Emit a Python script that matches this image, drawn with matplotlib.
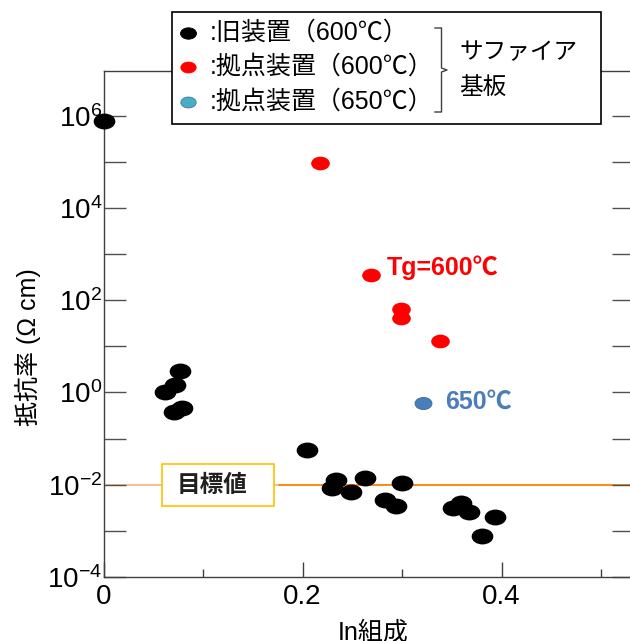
import numpy as np
import matplotlib
matplotlib.use('Agg')
import matplotlib.pyplot as plt
from matplotlib.path import Path
from matplotlib.transforms import Affine2D
from matplotlib.patches import Rectangle
from matplotlib.lines import Line2D
from matplotlib.ticker import FixedLocator, NullFormatter

plt.rcParams['font.family'] = ['Liberation Sans', 'Noto Sans CJK JP', 'DejaVu Sans']
plt.rcParams['mathtext.fontset'] = 'custom'
plt.rcParams['mathtext.rm'] = 'Liberation Sans'

# old system, 600C
old_x = [0.0, 0.0764, 0.0714, 0.062, 0.0707, 0.0787, 0.204, 0.234, 0.230, 0.249,
         0.263, 0.300, 0.283, 0.294, 0.351, 0.3595, 0.367, 0.393, 0.3806]
old_y = [7.67e5, 2.97, 1.45, 1.04, 0.383, 0.454, 0.0566, 0.0127, 0.00838, 0.00706,
         0.0142, 0.0107, 0.00467, 0.00346, 0.00308, 0.00396, 0.00261, 0.00197, 0.000774]
# base system, 600C
new600_x = [0.2178, 0.2688, 0.2985, 0.2985, 0.3384]
new600_y = [9.3e4, 352, 63.5, 40.6, 13.1]
# base system, 650C
new650_x = [0.3209]
new650_y = [0.582]

target = 1e-2
legend_labels = [':旧装置（600℃）', ':拠点装置（600℃）', ':拠点装置（650℃）']
xticks_major = [0, 0.2, 0.4]
xticks_minor = [0.1, 0.3, 0.5]
ydecades = list(range(-4, 7))

# wide ellipse marker
ell = Path.unit_circle().transformed(Affine2D().scale(1.4, 1.0))

W, H = 630, 641
fig = plt.figure(figsize=(W / 100, H / 100), dpi=100)
ax = fig.add_axes([103.5 / W, 1 - 577 / H, (634 - 103.5) / W, (577 - 70.7) / H])
ax.set_yscale('log')
ax.set_xlim(0, 0.533)
ax.set_ylim(1e-4, 10 ** 6.975)

for s in ax.spines.values():
    s.set_color('#404040')
    s.set_linewidth(1.0)

# target line
ax.axhline(target, color='#F8B088', lw=1.2, zorder=1)
ax.axhline(target, xmin=0.33, color='#FF8000', lw=1.2, zorder=1)

ax.plot(old_x, old_y, ls='none', marker=ell, ms=14.6, color='black', zorder=3, clip_on=False)
ax.plot(new600_x, new600_y, ls='none', marker=ell, ms=12.4, color='#FF0000', zorder=3)
ax.plot(new650_x, new650_y, ls='none', marker=ell, ms=12.2, mfc='#4A7EBB', mec='#3A6496',
        mew=0.6, zorder=3)

ax.text(0.285, 10 ** 2.70, 'Tg=600℃', color='#FF0000', fontsize=18, fontweight='bold',
        ha='left', va='center')
ax.text(0.343, 10 ** -0.21, '650℃', color='#4A7EBB', fontsize=18, fontweight='bold',
        ha='left', va='center')

# ticks
ax.yaxis.set_major_locator(FixedLocator([10.0 ** d for d in ydecades]))
ax.yaxis.set_minor_locator(FixedLocator([]))
ax.set_yticklabels(['$\\mathregular{10^{%d}}$' % d if d % 2 == 0 else '' for d in ydecades])
ax.tick_params(axis='y', which='major', direction='in', length=16, width=1.0,
               color='#505050', right=True, labelsize=20, pad=1)
ax.xaxis.set_major_locator(FixedLocator(xticks_major))
ax.xaxis.set_minor_locator(FixedLocator(xticks_minor))
ax.xaxis.set_minor_formatter(NullFormatter())
ax.set_xticklabels(['0', '0.2', '0.4'])
ax.tick_params(axis='x', which='major', direction='in', length=11, width=1.0,
               color='#404040', labelsize=20, pad=5)
ax.tick_params(axis='x', which='minor', direction='in', length=6, width=1.0, color='#404040')

fig.text(28 / W, 1 - 347 / H, '抵抗率 (Ω cm)', rotation=90, ha='center', va='center', fontsize=18)
fig.text(373 / W, 1 - 633 / H, 'In組成', ha='center', va='center', fontsize=18)

# target box
ax.add_patch(Rectangle((162 / W, 1 - 506 / H), 112 / W, 42 / H, transform=fig.transFigure,
                       facecolor='white', edgecolor='#FFC000', lw=1.2, zorder=4, clip_on=False))
fig.text(212 / W, 1 - 485 / H, '目標値', ha='center', va='center', fontsize=17,
         fontweight='bold', color='#202020', zorder=5)

# legend box
fig.patches.append(Rectangle((172 / W, 1 - 124 / H), 429 / W, 112 / H, transform=fig.transFigure,
                             facecolor='white', edgecolor='black', lw=1.2, zorder=5))
rows = [33, 67, 102]
faces = ['black', '#FF0000', '#4BACC6']
edges = ['black', '#FF0000', '#357D91']
sizes = [11.5, 11.0, 11.0]
for r, lab, fc, ec, sz in zip(rows, legend_labels, faces, edges, sizes):
    fig.lines.append(Line2D([188 / W], [1 - r / H], transform=fig.transFigure, ls='none',
                            marker=ell, ms=sz, mfc=fc, mec=ec, mew=0.6, zorder=6))
    fig.text(210 / W, 1 - r / H, lab, ha='left', va='center', fontsize=18, zorder=6)

bx = [435, 441.5, 441.5, 447, 441.5, 441.5, 435]
by = [28, 28, 68, 70, 72, 112, 112]
fig.lines.append(Line2D([v / W for v in bx], [1 - v / H for v in by], transform=fig.transFigure,
                        color='#404040', lw=1.0, zorder=6))
fig.text(459 / W, 1 - 53 / H, 'サファイア', ha='left', va='center', fontsize=17, zorder=6)
fig.text(459 / W, 1 - 88 / H, '基板', ha='left', va='center', fontsize=17, zorder=6)

fig.savefig('out.png', dpi=100)
